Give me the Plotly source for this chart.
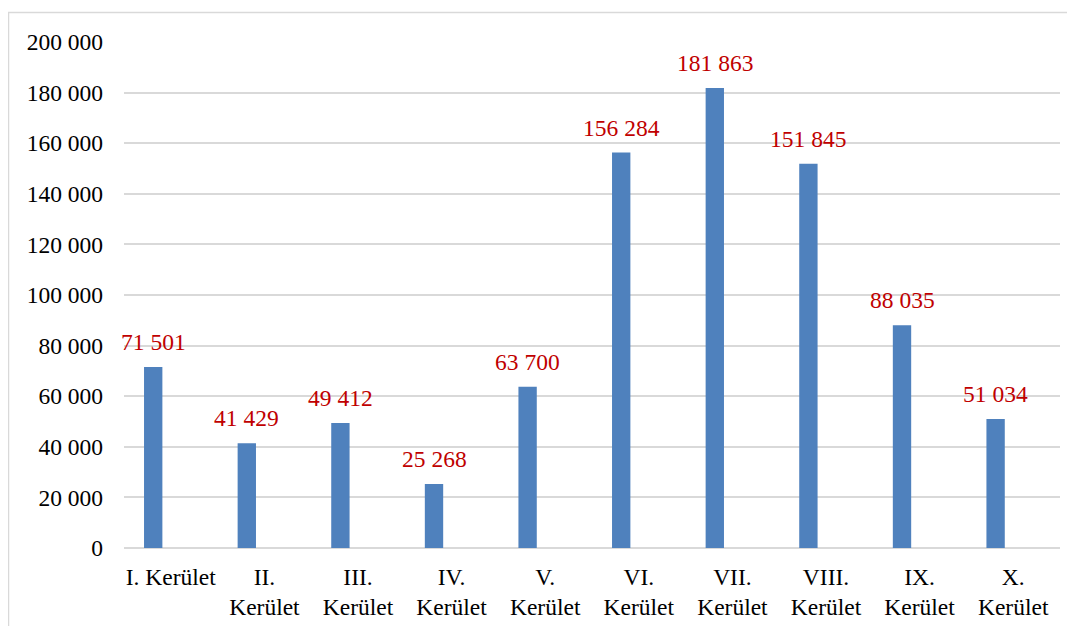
import plotly.graph_objects as go

# district labels and values
districts = ["I. Kerület", "II.<br>Kerület", "III.<br>Kerület", "IV.<br>Kerület", "V.<br>Kerület",
             "VI.<br>Kerület", "VII.<br>Kerület", "VIII.<br>Kerület", "IX.<br>Kerület", "X.<br>Kerület"]
values = [71501, 41429, 49412, 25268, 63700, 156284, 181863, 151845, 88035, 51034]
y_ticks = list(range(0, 200001, 20000))

bar_offset = -0.286  # bars sit left of the category centre (Excel clustered look)
bar_width = 0.196

fig = go.Figure(
    go.Bar(
        x=list(range(len(districts))),
        y=values,
        offset=bar_offset,
        width=bar_width,
        marker=dict(color="#4F81BD", line=dict(width=0)),
        hoverinfo="y",
    )
)

# data labels above the bars
for i, v in enumerate(values):
    fig.add_annotation(
        x=i + bar_offset + bar_width / 2,
        y=v,
        text=f"{v:,}".replace(",", " "),
        showarrow=False,
        yanchor="middle",
        yshift=25,
        font=dict(color="#C00000", size=23.5),
    )

# thin chart-area border (top and left visible, rest runs off the page)
fig.add_shape(
    type="rect", xref="paper", yref="paper",
    x0=-0.1234, x1=1.2, y0=-0.3, y1=1.0583,
    line=dict(color="#D9D9D9", width=1.5), fillcolor="rgba(0,0,0,0)", layer="below",
)

fig.update_layout(
    width=1075,
    height=626,
    margin=dict(l=116, r=23, t=34, b=86),
    paper_bgcolor="white",
    plot_bgcolor="white",
    showlegend=False,
    separators=", ",
    font=dict(family="Liberation Serif, Times New Roman, serif", size=23.5, color="black"),
    xaxis=dict(
        tickmode="array",
        tickvals=list(range(len(districts))),
        ticktext=districts,
        range=[-0.5, len(districts) - 0.5],
        showgrid=False,
        showline=False,
        zeroline=False,
        ticks="",
        ticklabelstandoff=12,
    ),
    yaxis=dict(
        range=[0, 200000],
        tickvals=y_ticks,
        tickformat=",d",
        showgrid=True,
        gridcolor="#D9D9D9",
        gridwidth=1.5,
        zeroline=True,
        zerolinecolor="#D9D9D9",
        zerolinewidth=1.5,
        showline=False,
        ticks="",
        ticklabelstandoff=20,
    ),
)

fig.write_html("out.html")
